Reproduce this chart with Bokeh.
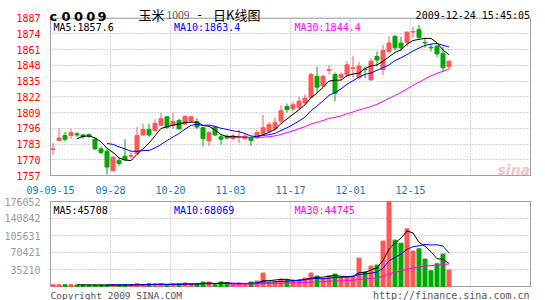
import pandas as pd
from bokeh.plotting import figure
from bokeh.models import Range1d, FixedTicker, Label, ColumnDataSource, NumeralTickFormatter
from bokeh.layouts import column
from bokeh.embed import file_html
from bokeh.resources import INLINE

# ---------------- data ----------------
dates = ["09-15","09-16","09-17","09-18","09-21","09-22","09-23","09-24","09-25","09-28","09-29","09-30",
         "10-09","10-12","10-13","10-14","10-15","10-16","10-19","10-20","10-21","10-22","10-23","10-26",
         "10-27","10-28","10-29","10-30",
         "11-02","11-03","11-04","11-05","11-06","11-09","11-10","11-11","11-12","11-13","11-16","11-17",
         "11-18","11-19","11-20","11-23","11-24","11-25","11-26","11-27","11-30",
         "12-01","12-02","12-03","12-04","12-07","12-08","12-09","12-10","12-11","12-14","12-15","12-16",
         "12-17","12-18","12-21","12-22","12-23","12-24"]

open_ = [1778.5,1786,1790,1790,1791.5,1790.5,1791,1787,1779,1777,1761,1769.5,1773,1773,1775,1790.5,
         1795,1794,1798.5,1805.5,1798.5,1802.5,1799.5,1802,1801.5,1796.5,1785.5,1797,1789,1789.5,
         1787.5,1788.5,1787.5,1788.5,1788,1791.5,1793.5,1795.5,1802,1814,1812,1813,1817,1821.5,
         1839,1831,1844,1840.5,1838,1840.5,1845.5,1838,1845,1836,1855.5,1844.5,1859.5,1872,1866.5,
         1867,1875.5,1877.5,1867,1863,1864,1858,1847]
high = [1784,1796,1793,1795.5,1793,1791.5,1791.5,1788,1781,1780,1773,1771.5,1787,1776,1797,1800,
        1800,1803.5,1808.5,1806,1809,1804,1806.5,1806.5,1804.5,1797,1794,1798,1791,1791,
        1791.5,1795,1791,1789,1794.5,1807,1801,1805,1815,1816.5,1818,1822,1824,1842,
        1847,1840,1848,1842,1842,1851.5,1856,1851,1847,1854,1859.5,1865,1872,1873,1871.5,
        1876,1880,1881.5,1871,1865.5,1865,1863.5,1852]
low = [1774,1786,1785,1787,1789,1787.5,1788,1778,1774.5,1758,1760,1765,1769,1771,1775,1790,
       1789,1793.5,1798,1795.5,1795.5,1795,1798.5,1801,1795.5,1781,1781.5,1789.5,1782.5,1787,
       1786,1784,1786.5,1781.5,1787.5,1791,1792,1794,1800,1809,1810,1812,1815,1821,
       1825.5,1830,1840.5,1818.5,1836,1838,1838,1836.5,1837.5,1835.5,1847,1840,1858,1860.5,1860,
       1863.5,1871,1870,1862.5,1859.5,1855,1842.5,1845]
close = [1779,1788,1787,1792.5,1790.5,1789,1789.5,1779,1776,1764,1772,1767,1770,1773.5,1790,1795,
         1790.5,1800,1804,1797,1801.5,1795.5,1806,1805.5,1797,1787.5,1792.5,1790.5,1787,1788,
         1789.5,1789,1789.5,1786,1792.5,1796.5,1799,1801,1810.5,1811.5,1815.5,1818.5,1821,1840.5,
         1830,1839,1844.5,1825,1840.5,1848.5,1846,1847.5,1844.5,1851.5,1852.5,1860.5,1866.5,1862.5,
         1862.5,1875.5,1876,1871,1866.5,1862.5,1857.5,1846,1851.5]
volume = [3700,3700,3700,3700,3100,3100,3100,3100,3100,3100,3700,3100,3100,3100,5800,3700,
          5800,5200,5200,3100,5200,5200,7200,5200,4500,9300,9300,3700,9300,7200,
          3100,7200,3700,9300,11400,27900,7900,10700,15500,12800,13400,13400,17500,27900,
          21700,16100,22300,25800,19600,19600,19600,58800,29900,42300,44400,93900,176052,96000,
          89800,119400,73300,78100,56800,32700,47100,67100,34100]

price_ticks = [1757, 1770, 1783, 1796, 1809, 1822, 1835, 1848, 1861, 1874, 1887]
vol_ticks = [35210, 70421, 105631, 140842, 176052]
x_tick_labels = ["09-09-15", "09-28", "10-20", "11-03", "11-17", "12-01", "12-15", ""]

ma_periods = [5, 10, 30]
ma_colors = ["#000000", "#0000FF", "#FF00FF"]
ma_price_labels = ["MA5:1857.6", "MA10:1863.4", "MA30:1844.4"]
ma_vol_labels = ["MA5:45708", "MA10:68069", "MA30:44745"]

title_code = "c0009"
title_name = ["玉米", "1009", "- ", "日K线图"]
title_time = "2009-12-24 15:45:05"
footer_left = "Copyright 2009 SINA.COM"
footer_right = "http://finance.sina.com.cn"

# ---------------- styling ----------------
RED = "#FF5656"
GREEN = "#00A800"
GRID = "#A8A8A8"
FRAME = "#A0A0A0"
MONO = "DejaVu Sans Mono"

N = len(dates)
idx = list(range(N))
XS = -5 / 12.0                      # candle units at the chart's left border (6 px per candle)
x_ticks = [XS + 10 * k for k in range(len(x_tick_labels))]
x_range = Range1d(XS - 1 / 6.0, XS + 481 / 6.0)

PMIN, PMAX = price_ticks[0], price_ticks[-1]
PPX = (PMAX - PMIN) / 160.0         # price units per pixel
VMAX = vol_ticks[-1]
VPX = VMAX / 85.0                   # volume units per pixel

colors = [RED if c >= o else GREEN for o, c in zip(open_, close)]
src = ColumnDataSource(dict(
    x=idx, o=open_, h=high, l=low, c=close,
    top=[max(o, c) for o, c in zip(open_, close)],
    bot=[min(o, c) for o, c in zip(open_, close)],
    vol=volume, color=colors))

cs = pd.Series(close)
vs = pd.Series(volume, dtype=float)


def base_style(p):
    p.background_fill_color = "white"
    p.border_fill_color = "white"
    p.outline_line_color = None
    p.xgrid.visible = False
    p.ygrid.grid_line_color = GRID
    p.ygrid.grid_line_dash = "1 2"
    p.ygrid.grid_line_width = 1
    p.yaxis.axis_line_color = None
    p.yaxis.major_tick_line_color = None
    p.yaxis.minor_tick_line_color = None
    p.yaxis.major_label_text_font = MONO
    p.yaxis.major_label_text_font_size = "10px"
    p.yaxis.major_label_standoff = 3


# ---------------- price chart ----------------
p1 = figure(width=545, height=196, x_range=x_range,
            y_range=Range1d(PMIN - PPX, PMAX + 18 * PPX),
            output_backend="svg", toolbar_location=None, title=None,
            min_border_left=49, min_border_right=14, min_border_top=0, min_border_bottom=17)
base_style(p1)
p1.yaxis.ticker = FixedTicker(ticks=price_ticks)
p1.yaxis.major_label_text_color = "#FF0000"
p1.xaxis.ticker = FixedTicker(ticks=x_ticks)
p1.xaxis.major_label_overrides = {t: lab for t, lab in zip(x_ticks, x_tick_labels)}
p1.xaxis.axis_line_color = None
p1.xaxis.major_tick_line_color = None
p1.xaxis.minor_tick_line_color = None
p1.xaxis.major_label_text_font = MONO
p1.xaxis.major_label_text_font_size = "10px"
p1.xaxis.major_label_text_color = "#1478C8"
p1.xaxis.major_label_standoff = 3

# vertical dotted grid inside the chart box, and the box itself
p1.segment(x0=x_ticks, y0=PMIN, x1=x_ticks, y1=PMAX, line_color=GRID, line_dash="1 2", line_width=1)
p1.quad(left=XS, right=XS + 80, bottom=PMIN, top=PMAX, fill_color=None, line_color=FRAME, line_width=1)

p1.segment(x0="x", y0="l", x1="x", y1="h", source=src, line_color="color", line_width=1)
p1.vbar(x="x", width=4 / 6.0, top="top", bottom="bot", source=src,
        fill_color="color", line_color="color", line_width=1)
for n, col in zip(ma_periods, ma_colors):
    p1.line(idx, cs.rolling(n).mean().tolist(), line_color=col, line_width=1)


def px1(sx):
    return XS + (sx - 50) / 6.0


def py1(sy):
    return PMAX - (sy - 18) * PPX


for k, (txt, col) in enumerate(zip(ma_price_labels, ma_colors)):
    p1.add_layout(Label(x=px1(53 + 120.5 * k), y=py1(27.5), text=txt, text_color=col,
                        text_font=MONO, text_font_size="10px", text_baseline="alphabetic"))

# header
code_centers = [52.9, 65.5, 78.0, 90.3, 101.5]
for ch, cx in zip(title_code, code_centers):
    p1.add_layout(Label(x=px1(cx), y=py1(16), text=ch, text_align="center",
                        text_font="DejaVu Sans", text_font_style="bold",
                        text_font_size="13px", text_color="#000000", text_baseline="alphabetic"))
p1.add_layout(Label(x=px1(138), y=py1(14.5), text=title_name[0], text_font="Noto Sans CJK SC",
                    text_font_size="13px", text_color="#000000", text_baseline="alphabetic"))
p1.add_layout(Label(x=px1(166), y=py1(14.5), text=title_name[1], text_font="Liberation Serif",
                    text_font_size="11.5px", text_color="#555555", text_baseline="alphabetic"))
p1.add_layout(Label(x=px1(195.5), y=py1(14.5), text=title_name[2], text_font=MONO,
                    text_font_size="12px", text_color="#000000", text_baseline="alphabetic"))
p1.add_layout(Label(x=px1(212.5), y=py1(14.5), text=title_name[3], text_font="Noto Sans CJK SC",
                    text_font_size="13px", text_color="#000000", text_baseline="alphabetic"))
p1.add_layout(Label(x=px1(529.5), y=py1(15), text=title_time, text_align="right",
                    text_font=MONO, text_font_size="10px", text_color="#000000",
                    text_baseline="alphabetic"))
# watermark
p1.add_layout(Label(x=px1(497), y=py1(172), text="sina", text_font="DejaVu Sans",
                    text_font_style="bold italic", text_font_size="14px", text_color="#F6C4C4",
                    text_baseline="alphabetic"))

# ---------------- volume chart ----------------
p2 = figure(width=545, height=104, x_range=x_range,
            y_range=Range1d(-14 * VPX, VMAX + VPX),
            output_backend="svg", toolbar_location=None, title=None, x_axis_location=None,
            min_border_left=49, min_border_right=14, min_border_top=4, min_border_bottom=0)
base_style(p2)
p2.yaxis.ticker = FixedTicker(ticks=vol_ticks)
p2.yaxis.formatter = NumeralTickFormatter(format="0")
p2.yaxis.major_label_text_color = "#999999"

p2.segment(x0=x_ticks, y0=0, x1=x_ticks, y1=VMAX, line_color=GRID, line_dash="1 2", line_width=1)
p2.quad(left=XS, right=XS + 80, bottom=0, top=VMAX, fill_color=None, line_color=FRAME, line_width=1)

p2.vbar(x="x", width=4 / 6.0, top="vol", bottom=0, source=src,
        fill_color="color", line_color="color", line_width=1)
for n, col in zip(ma_periods, ma_colors):
    p2.line(idx, vs.rolling(n).mean().tolist(), line_color=col, line_width=1)


def py2(sy):
    return VMAX * (286 - sy) / 85.0


for k, (txt, col) in enumerate(zip(ma_vol_labels, ma_colors)):
    p2.add_layout(Label(x=px1(53 + 120.5 * k), y=py2(209.5), text=txt, text_color=col,
                        text_font=MONO, text_font_size="10px", text_baseline="alphabetic"))

p2.add_layout(Label(x=px1(50), y=py2(295), text=footer_left, text_font=MONO,
                    text_font_size="9.5px", text_color="#555555", text_baseline="alphabetic"))
p2.add_layout(Label(x=px1(529), y=py2(295), text=footer_right, text_align="right", text_font=MONO,
                    text_font_size="10px", text_color="#555555", text_baseline="alphabetic"))

layout = column(p1, p2, spacing=0)
open("out.html", "w").write(file_html(layout, INLINE))
